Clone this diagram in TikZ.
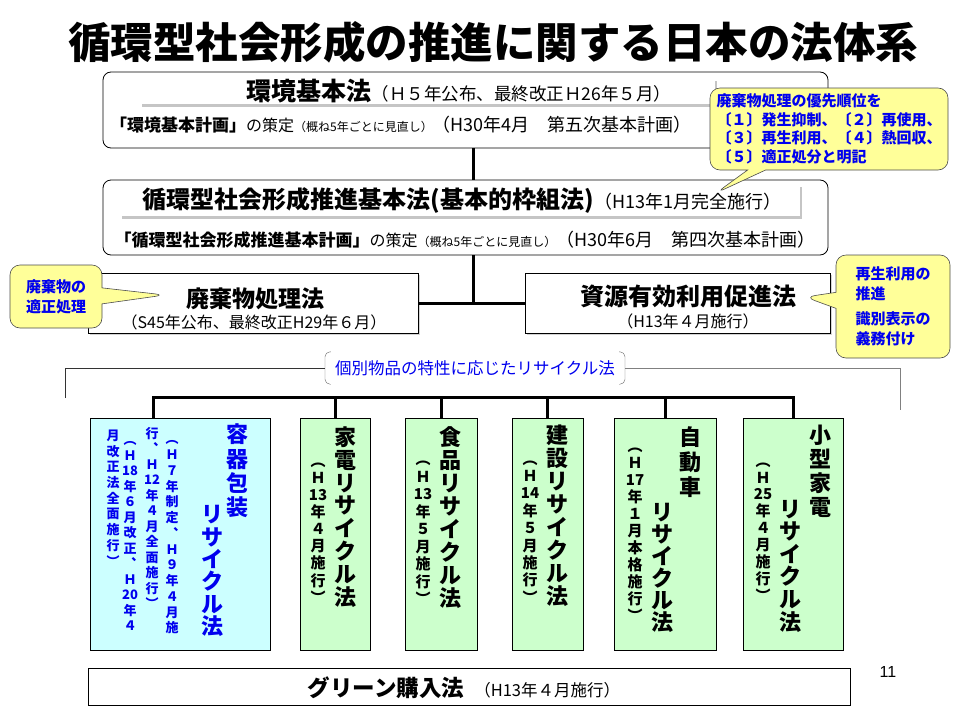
\documentclass[tikz,border=0pt]{standalone}
\usepackage{fontspec}
\setmainfont{Noto Sans CJK JP}
\newfontfamily\arialfont{Liberation Sans}
\usetikzlibrary{shapes.callouts, shadows}
\definecolor{noteyellow}{HTML}{FFFF99}
\definecolor{boxgreen}{HTML}{CCFFCC}
\definecolor{boxcyan}{HTML}{CCFFFF}
\definecolor{lawblue}{HTML}{0000EE}
% vertical text: one character (or {group}) per row
\newcommand\tateend{TATEEND}
\newcommand\tate[2]{\vbox{\baselineskip=#1\lineskiplimit=-\maxdimen\tatenext#2\tateend}}
\newcommand\tatenext[1]{\ifx\tateend#1\else\hbox to 0pt{\hss#1\hss}\expandafter\tatenext\fi}
\tikzstyle{lawbox} = [rectangle, rounded corners=8pt, draw=black, line width=0.8pt, fill=white]
\tikzstyle{plainbox} = [rectangle, draw=black, line width=0.8pt, fill=white, drop shadow={shadow xshift=2pt, shadow yshift=-2pt, opacity=0.35}]
\tikzstyle{hdrbar} = [rectangle, fill=white, drop shadow={shadow xshift=2pt, shadow yshift=-3pt, opacity=0.45}]
\tikzstyle{recbox} = [rectangle, draw=black, line width=0.8pt, fill=boxgreen, minimum height=232pt]
\tikzstyle{note} = [rectangle callout, rounded corners=10pt, draw=black!70, line width=0.6pt, fill=noteyellow, text=lawblue, align=left, inner sep=0pt]
\tikzstyle{conn} = [line width=3pt]
\tikzstyle{tatebig} = [inner sep=0pt, font=\fontsize{22}{22}\selectfont\bfseries]
\tikzstyle{tatesmall} = [inner sep=0pt, font=\fontsize{15}{15}\selectfont\bfseries]
\tikzstyle{tatetiny} = [inner sep=0pt, text=lawblue, font=\fontsize{13}{13}\selectfont\bfseries]

\begin{document}
\begin{tikzpicture}[x=1pt, y=-1pt]
\useasboundingbox (0,0) rectangle (960,720);
\node (title) [font=\fontsize{42.5}{42.5}\selectfont\bfseries] at (493,42) {循環型社会形成の推進に関する日本の法体系};

% basic laws
\node (kankyo) [lawbox, minimum width=725pt, minimum height=76pt] at (465.5,110) {};
\node (kankyoBar) [hdrbar, minimum width=575pt, minimum height=26pt] at (427,91) {};
\node (kankyoTitle) at (459,91) {{\fontsize{25}{25}\selectfont\bfseries 環境基本法}{\fontsize{17.5}{17.5}\selectfont （Ｈ５年公布、最終改正Ｈ26年５月）}};
\node (kankyoPlan) at (401,125) {{\fontsize{17}{17}\selectfont\bfseries 「環境基本計画」}{\fontsize{16}{16}\selectfont の策定}{\fontsize{12}{12}\selectfont （概ね5年ごとに見直し）}{\fontsize{18}{18}\selectfont （H30年4月　第五次基本計画）}};

\node (junkan) [lawbox, minimum width=725pt, minimum height=75pt] at (465.5,217.5) {};
\node (junkanBar) [hdrbar, minimum width=680pt, minimum height=32pt] at (460,200) {};
\node (junkanTitle) at (462,200) {{\fontsize{24}{24}\selectfont\bfseries 循環型社会形成推進基本法(基本的枠組法)}{\fontsize{18}{18}\selectfont （H13年1月完全施行）}};
\node (junkanPlan) at (465,240) {{\fontsize{17}{17}\selectfont\bfseries 「循環型社会形成推進基本計画」}{\fontsize{16}{16}\selectfont の策定}{\fontsize{12}{12}\selectfont （概ね5年ごとに見直し）}{\fontsize{18}{18}\selectfont （H30年6月　第四次基本計画）}};

\node (haiki) [plainbox, minimum width=330pt, minimum height=60pt] at (253,303) {};
\node (haikiTitle) [font=\fontsize{23}{23}\selectfont\bfseries] at (255,299) {廃棄物処理法};
\node (haikiDate) [font=\fontsize{16}{16}\selectfont] at (254,322) {（S45年公布、最終改正H29年６月）};

\node (shigen) [plainbox, minimum width=305pt, minimum height=60pt] at (677.5,303) {};
\node (shigenTitle) [font=\fontsize{24}{24}\selectfont\bfseries] at (688,296) {資源有効利用促進法};
\node (shigenDate) [font=\fontsize{16}{16}\selectfont] at (688,321) {（H13年４月施行）};

\coordinate (hub) at (473,303);
\draw [conn] (kankyo.south -| hub) -- (junkan.north -| hub);
\draw [conn] (junkan.south -| hub) -- (hub);
\draw [conn] (haiki.east) -- (shigen.west);

% recycling laws by product
\node (group) [text=lawblue, font=\fontsize{16.5}{16.5}\selectfont, inner xsep=10pt, minimum height=32pt] at (475,368) {個別物品の特性に応じたリサイクル法};
\draw [black!60, rounded corners=5pt] ([xshift=6pt]group.north west) -- (group.north west) -- (group.south west) -- ([xshift=6pt]group.south west);
\draw [black!60, rounded corners=5pt] ([xshift=-6pt]group.north east) -- (group.north east) -- (group.south east) -- ([xshift=-6pt]group.south east);
\coordinate (brL) at (65,398);
\coordinate (brR) at (900,410);
\draw [black!80] (brL) |- (group.west);
\draw [black!50] (group.east) -| (brR);

\node (yoki) [recbox, fill=boxcyan, minimum width=180pt] at (180,534) {};
\node (kaden) [recbox, minimum width=70pt] at (335,534) {};
\node (shokuhin) [recbox, minimum width=72pt] at (441,534) {};
\node (kensetsu) [recbox, minimum width=71pt] at (547.5,534) {};
\node (jidosha) [recbox, minimum width=102pt] at (665,534) {};
\node (kogata) [recbox, minimum width=100pt] at (793,534) {};

\coordinate (yokitop) at ([xshift=-27pt]yoki.north);
\coordinate (bus) at (473,397);
\draw [conn] (yokitop) |- (kogata.north |- bus) -- (kogata.north);
\foreach \b in {kaden,shokuhin,kensetsu,jidosha}
  \draw [conn] (\b.north) -- (\b.north |- bus);

\node (yokiA) [tatebig, text=lawblue] at (237,471) {\tate{24.3pt}{容器包装}};
\node (yokiB) [tatebig, text=lawblue] at (212,571) {\tate{22.4pt}{リサイクル法}};
\node (yokiC1) [tatetiny] at (172,537.5) {\tate{15.75pt}{︵Ｈ７年制定︑Ｈ９年４月施}};
\node (yokiC2) [tatetiny] at (152,518) {\tate{15.5pt}{行︑Ｈ{12}年４月全面施行︶}};
\node (yokiC3) [tatetiny] at (130,536) {\tate{15.5pt}{︵Ｈ{18}年６月改正︑Ｈ{20}年４}};
\node (yokiC4) [tatetiny] at (113,498) {\tate{15.7pt}{月改正法全面施行︶}};

\node (kadenA) [tatebig] at (345,517) {\tate{22.9pt}{家電リサイクル法}};
\node (kadenB) [tatesmall] at (318,533) {\tate{17.1pt}{︵Ｈ{13}年４月施行︶}};
\node (shokuhinA) [tatebig] at (450,518) {\tate{23pt}{食品リサイクル法}};
\node (shokuhinB) [tatesmall] at (423,533) {\tate{17.5pt}{︵Ｈ{13}年５月施行︶}};
\node (kensetsuA) [tatebig] at (557,516) {\tate{23pt}{建設リサイクル法}};
\node (kensetsuB) [tatesmall] at (530,532) {\tate{17.4pt}{︵Ｈ{14}年５月施行︶}};
\node (jidoshaA) [tatebig] at (690,462) {\tate{25pt}{自動車}};
\node (jidoshaB) [tatebig] at (662,568) {\tate{22pt}{リサイクル法}};
\node (jidoshaC) [tatesmall] at (635,535) {\tate{17pt}{︵Ｈ{17}年１月本格施行︶}};
\node (kogataA) [tatebig] at (820,471) {\tate{24pt}{小型家電}};
\node (kogataB) [tatebig] at (790,566) {\tate{22.6pt}{リサイクル法}};
\node (kogataC) [tatesmall] at (763,532) {\tate{16.9pt}{︵Ｈ{25}年４月施行︶}};

\node (green) [rectangle, draw=black, line width=0.8pt, minimum width=762pt, minimum height=37pt] at (469,686.5) {};
\node (greenTitle) at (464,688) {{\fontsize{22.5}{22.5}\selectfont\bfseries グリーン購入法}\quad{\fontsize{16.5}{16.5}\selectfont （H13年４月施行）}};
\node (pagenum) [font=\arialfont\fontsize{16}{16}\selectfont] at (888,672) {11};

% notes
\node (noteOrder) [note, minimum width=238pt, minimum height=82pt, callout pointer width=18pt, callout absolute pointer={(716,193)}, font=\fontsize{15}{18.5}\selectfont\bfseries] at (829,129) {廃棄物処理の優先順位を\\〔１〕発生抑制、〔２〕再使用、\\〔３〕再生利用、〔４〕熱回収、\\〔５〕適正処分と明記};
\node (noteWaste) [note, minimum width=92pt, minimum height=63pt, callout pointer width=16pt, callout absolute pointer={(165,295)}, font=\fontsize{15}{20}\selectfont\bfseries] at (56,296.5) {廃棄物の\\適正処理};
\node (noteRes) [note, minimum width=114pt, minimum height=103pt, callout pointer width=16pt, callout absolute pointer={(805,297)}, font=\fontsize{15}{20}\selectfont\bfseries] at (893,306.5) {再生利用の\\推進\\[5pt]識別表示の\\義務付け};
\end{tikzpicture}
\end{document}
